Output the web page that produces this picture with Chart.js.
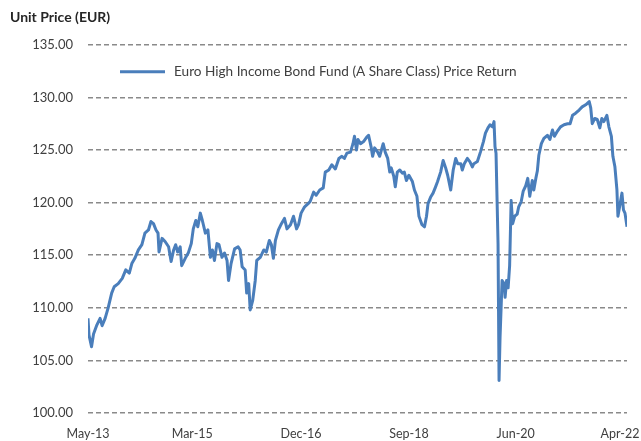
<!DOCTYPE html>
<html>
<head>
<meta charset="utf-8">
<script src="https://cdn.jsdelivr.net/npm/chart.js@4.4.1/dist/chart.umd.min.js"></script>
<style>
    html, body { margin: 0; padding: 0; background: #fff; }
</style>
</head>
<body>
<canvas id="priceChart" width="641" height="441"></canvas>
<script>
// Months since May-13 (x) and unit price (y)
const months = [
    0, 0.2, 0.7, 1.1, 1.7, 2.4, 2.8, 3.4, 4.0, 4.7,
    5.2, 6.0, 6.8, 7.5, 8.2, 8.7, 9.3, 10.0, 10.7, 11.3,
    12.0, 12.5, 13.0, 13.5, 13.9, 14.1, 14.7, 15.3, 16.0, 16.5,
    17.0, 17.4, 17.8, 18.3, 18.6, 19.3, 19.9, 20.5, 20.9, 21.4,
    21.8, 22.3, 22.7, 23.3, 23.8, 24.3, 24.7, 25.1, 25.6, 26.0,
    26.6, 27.1, 27.6, 27.9, 28.4, 29.1, 29.8, 30.2, 30.6, 31.2,
    31.5, 31.9, 32.2, 32.7, 33.2, 33.5, 34.2, 34.9, 35.4, 36.0,
    36.4, 36.8, 37.2, 37.8, 38.4, 39.0, 39.5, 40.2, 40.8, 41.4,
    41.8, 42.3, 43.0, 43.7, 44.1, 44.8, 45.3, 46.0, 46.7, 47.1,
    47.8, 48.4, 49.1, 49.8, 50.4, 50.9, 51.4, 52.1, 52.6, 52.9,
    53.3, 53.6, 54.1, 54.7, 55.3, 55.7, 56.2, 56.5, 56.9, 57.5,
    57.9, 58.6, 59.0, 59.5, 59.9, 60.2, 60.7, 61.0, 61.4, 61.9,
    62.4, 62.8, 63.2, 63.7, 64.4, 64.8, 65.3, 65.7, 66.3, 66.8,
    67.2, 67.5, 68.0, 68.5, 69.0, 69.4, 70.0, 70.5, 71.0, 71.4,
    72.0, 72.5, 73.0, 73.4, 74.0, 74.3, 74.7, 75.3, 75.8, 76.3,
    76.6, 77.3, 77.9, 78.5, 78.9, 79.4, 79.8, 80.3, 80.6, 80.8,
    81.0, 81.4, 81.6, 81.8, 82.2, 82.6, 82.8, 83.1, 83.4, 83.7,
    84.0, 84.3, 84.7, 85.2, 85.5, 86.0, 86.4, 86.9, 87.3, 87.7,
    88.2, 88.5, 88.9, 89.2, 89.5, 90.0, 90.5, 91.2, 91.7, 92.2,
    92.6, 93.2, 93.8, 94.5, 95.2, 95.7, 96.2, 96.8, 97.5, 98.1,
    98.8, 99.5, 99.8, 100.1, 100.6, 101.1, 101.6, 102.0, 102.4, 103.0,
    103.4, 103.9, 104.2, 104.6, 105.0, 105.2, 105.6, 106.0, 106.3, 106.6,
    107.0
];
const prices = [
    109.0, 107.4, 106.3, 107.5, 108.3, 109.0, 108.3, 109.0, 110.0, 111.4,
    112.0, 112.3, 112.8, 113.6, 113.3, 114.2, 114.7, 115.5, 116.0, 117.1,
    117.4, 118.2, 118.0, 117.4, 117.1, 115.3, 116.6, 116.3, 115.8, 114.4,
    115.5, 116.0, 115.3, 115.8, 114.0, 114.7, 115.2, 116.1, 117.5, 118.3,
    117.7, 119.0, 118.3, 117.1, 117.4, 114.8, 115.5, 114.5, 116.1, 116.0,
    114.8, 115.2, 114.5, 112.6, 114.2, 115.6, 115.8, 115.5, 113.9, 113.6,
    111.4, 112.3, 109.8, 110.7, 112.6, 114.5, 114.8, 115.5, 115.3, 116.4,
    116.0, 114.7, 116.4, 117.4, 118.0, 118.5, 117.5, 117.9, 118.7, 117.5,
    117.9, 119.0, 119.6, 119.9, 120.1, 121.0, 120.7, 121.2, 121.4, 122.9,
    123.1, 123.6, 123.2, 124.2, 124.4, 124.2, 124.7, 124.8, 125.6, 126.3,
    125.0, 126.0, 125.6, 125.8, 126.2, 126.4, 125.3, 124.4, 125.2, 124.8,
    124.4, 125.6, 124.8, 124.2, 122.9, 123.3, 122.5, 121.5, 122.9, 123.1,
    122.8, 122.9, 122.1, 122.6, 122.0, 121.2, 120.6, 118.7, 117.9, 117.7,
    118.7, 119.9, 120.5, 120.9, 121.5, 122.0, 122.9, 124.0, 123.3, 122.6,
    121.2, 123.1, 124.2, 123.7, 123.7, 123.1, 123.7, 124.2, 123.9, 123.4,
    123.7, 123.9, 124.8, 125.8, 126.6, 127.1, 127.4, 127.2, 127.7, 125.3,
    124.7, 116.1, 103.1, 107.2, 112.6, 112.3, 111.0, 112.6, 111.9, 114.0,
    120.2, 118.0, 118.7, 118.9, 119.6, 120.1, 121.1, 121.6, 122.3, 120.6,
    122.1, 121.2, 122.3, 123.0, 124.5, 125.6, 126.1, 126.4, 126.0, 126.9,
    126.3, 126.8, 127.2, 127.4, 127.5, 127.5, 128.3, 128.5, 128.8, 129.1,
    129.3, 129.6, 129.0, 127.5, 128.0, 127.9, 127.1, 128.0, 127.7, 128.3,
    127.2, 126.3, 124.4, 123.4, 121.2, 118.7, 119.8, 120.9, 119.3, 119.0,
    117.7
];

// Date tick labels and where they sit (months since May-13)
const xTickLabels = ['May-13', 'Mar-15', 'Dec-16', 'Sep-18', 'Jun-20', 'Apr-22'];
const xTickPos = [0, 20.7, 42.3, 63.7, 84.9, 105.6];

const seriesName = 'Euro High Income Bond Fund (A Share Class) Price Return';
const lineColor = '#4a7ebb';

Chart.defaults.font.family = 'Lato, "Open Sans", sans-serif';
Chart.defaults.color = '#404040';

// Legend sits inside the plot, like the original
const legendInPlot = {
    id: 'legendInPlot',
    afterDatasetsDraw(chart) {
        const ctx = chart.ctx;
        const area = chart.chartArea;
        const ds = chart.data.datasets[0];
        const x = area.left + 32;
        const y = area.top + 27;
        ctx.save();
        ctx.strokeStyle = ds.borderColor;
        ctx.lineWidth = 3;
        ctx.beginPath();
        ctx.moveTo(x, y);
        ctx.lineTo(x + 45, y);
        ctx.stroke();
        ctx.fillStyle = '#404040';
        ctx.font = '13.6px Lato, "Open Sans", sans-serif';
        ctx.textBaseline = 'middle';
        ctx.fillText(ds.label, x + 54, y);
        ctx.restore();
    }
};

const points = months.map((m, i) => ({ x: m, y: prices[i] }));

const ctx = document.getElementById('priceChart').getContext('2d');
const myChart = new Chart(ctx, {
    type: 'line',
    data: {
        datasets: [{
            label: seriesName,
            data: points,
            borderColor: lineColor,
            backgroundColor: lineColor,
            borderWidth: 3,
            pointRadius: 0,
            tension: 0,
            borderJoinStyle: 'round',
        }]
    },
    options: {
        responsive: false,
        animation: false,
        layout: {
            padding: { left: 10, right: 14, top: 1, bottom: 0 }
        },
        plugins: {
            legend: { display: false },
            tooltip: { enabled: false },
            title: {
                display: true,
                text: 'Unit Price (EUR)',
                align: 'start',
                color: '#262626',
                font: { size: 14, weight: 'bold' },
                padding: { top: 8, bottom: 19 }
            }
        },
        scales: {
            x: {
                type: 'linear',
                min: 0,
                max: 107,
                grid: { display: false, drawTicks: false },
                border: { display: false },
                afterBuildTicks: (axis) => {
                    axis.ticks = xTickPos.map(v => ({ value: v }));
                },
                afterFit: (axis) => {
                    // let the last label run to the edge, as in the original
                    axis.paddingLeft = 0;
                    axis.paddingRight = 0;
                    axis.height = 28;
                },
                ticks: {
                    autoSkip: false,
                    maxRotation: 0,
                    padding: 15,
                    font: { size: 12.5, lineHeight: 1 },
                    callback: (value, index) => xTickLabels[index]
                }
            },
            y: {
                min: 100,
                max: 135,
                grid: { color: '#8a8a8a', lineWidth: 1.5, drawTicks: false },
                border: { display: false, dash: [5, 3] },
                afterFit: (axis) => {
                    axis.width = 78;
                },
                ticks: {
                    stepSize: 5,
                    padding: 15,
                    font: { size: 13, lineHeight: 1 },
                    callback: v => v.toFixed(2)
                }
            }
        }
    },
    plugins: [legendInPlot]
});
</script>
</body>
</html>
